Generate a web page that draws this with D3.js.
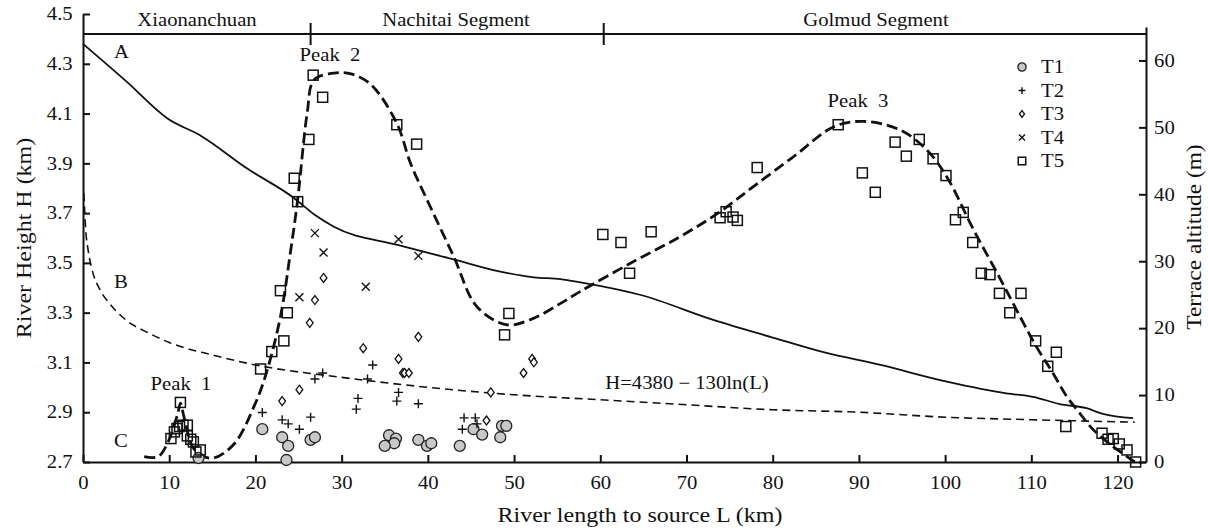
<!DOCTYPE html>
<html>
<head>
<meta charset="utf-8">
<script src="https://cdn.jsdelivr.net/npm/d3@7"></script>
<style>
  body { margin: 0; background: #fff; }
  text { font-family: "Liberation Serif", "Times New Roman", serif; fill: #111; }
  .axis path, .axis line { stroke: #111; stroke-width: 2; }
</style>
</head>
<body>
<div id="chart"></div>
<script>
// data
// river profile A (km, km a.s.l.)
var profileA = [[0, 4.38], [5, 4.23], [9.8, 4.08], [13.7, 4.01], [19, 3.88], [24.5, 3.76], [27, 3.69],
  [29.1, 3.645], [36.5, 3.572], [43.0, 3.514], [48.4, 3.465], [52.3, 3.442], [55.4, 3.435], [57.7, 3.422],
  [64.7, 3.371], [73.2, 3.27], [80, 3.20], [86, 3.14], [92.5, 3.09], [100.2, 3.023], [107.1, 2.976],
  [110.2, 2.962], [113.3, 2.933], [116.4, 2.916], [118.3, 2.893], [121.8, 2.876]];

// fitted curve B, H=4380-130ln(L) (km, km)
var curveB = [[0.1, 3.78], [0.3, 3.64], [0.6, 3.55], [1, 3.48], [2, 3.39], [3, 3.34], [5, 3.27],
  [7.5, 3.22], [10, 3.18], [15, 3.13], [20, 3.09], [30, 3.04], [40, 3.00], [50, 2.97], [60, 2.95],
  [70, 2.93], [80, 2.91], [90, 2.90], [100, 2.88], [110, 2.87], [122, 2.86]];

// envelope C of terrace altitude (km, m)
var envelopeC = [[7.1, 0.8], [8.7, 0.8], [9.8, 2.8], [11.0, 7.3], [11.3, 8.8], [11.7, 6.8], [12.7, 2.3],
  [13.7, 1.0], [15.2, 0.6], [17.6, 2.8], [19.9, 8.5], [21.2, 13], [22.9, 21.7], [24.1, 31.7], [24.9, 39.2],
  [26.0, 52.1], [26.8, 57.1], [29.1, 58.1], [31.1, 58.0], [33.4, 56.4], [36.4, 50.6], [38.0, 44.6],
  [39.9, 39.2], [43.0, 30.7], [45.7, 23.2], [49.2, 20.5], [52.3, 21.5], [55.4, 23.7], [57.7, 25.5],
  [63.5, 29.7], [69.3, 33.7], [73.9, 37.4], [77.8, 41.2], [82.4, 45.6], [87.1, 50.1], [90.5, 50.9],
  [94.8, 49.6], [97.9, 46.6], [100.2, 42.6], [103.3, 34.7], [106.3, 27.6], [108.7, 21.7], [110.6, 17.2],
  [112.5, 13.3], [114.1, 9.8], [115.6, 7.3], [117.2, 4.8], [119.5, 2.3], [122, 0]];

// terraces (km, m)
var t1 = [[13.4, 0.6], [20.8, 4.9], [23.1, 3.7], [23.8, 2.4], [23.6, 0.3], [26.4, 3.3], [26.9, 3.7],
  [35.5, 4.0], [36.3, 3.5], [36.1, 2.8], [35.0, 2.4], [38.9, 3.3], [39.9, 2.4], [40.4, 2.8], [43.7, 2.4],
  [45.3, 4.9], [46.3, 4.1], [48.4, 3.7], [48.6, 5.4], [49.1, 5.4]];
var t2 = [[20.8, 7.4], [23.1, 6.3], [23.8, 5.7], [25.1, 4.9], [26.4, 6.7], [26.9, 12.4], [27.8, 13.3],
  [31.7, 7.9], [31.9, 9.5], [33.0, 12.4], [33.6, 14.5], [36.4, 9.1], [36.6, 10.4], [38.9, 8.7],
  [44.0, 4.9], [44.2, 6.6], [45.5, 6.6], [45.7, 5.7]];
var t3 = [[23.1, 9.1], [25.1, 10.8], [26.3, 20.8], [26.9, 24.2], [27.9, 27.5], [32.5, 17.0], [36.6, 15.4],
  [37.1, 13.3], [37.3, 13.3], [37.8, 13.3], [38.9, 18.7], [46.8, 6.2], [47.3, 10.4], [51.1, 13.3],
  [52.1, 15.4], [52.3, 14.9]];
var t4 = [[26.9, 34.2], [27.9, 31.3], [25.1, 24.6], [32.8, 26.2], [36.6, 33.3], [38.9, 30.8]];
var t5 = [[10.2, 3.5], [10.6, 4.5], [10.9, 5.0], [11.2, 5.3], [11.6, 5.5], [11.3, 8.9], [12.1, 5.5],
  [12.1, 3.9], [12.5, 3.4], [12.8, 3.0], [13.1, 1.5], [13.6, 1.8],
  [20.6, 13.9], [21.9, 16.5], [23.3, 18.1], [23.7, 22.3], [22.9, 25.6], [24.9, 38.9], [24.5, 42.4],
  [26.2, 48.2], [26.7, 57.8], [27.8, 54.5], [36.4, 50.4], [38.7, 47.5], [49.4, 22.2], [48.9, 19.0],
  [60.3, 34.0], [62.4, 32.8], [63.4, 28.2], [65.9, 34.4], [73.9, 36.5], [74.6, 37.4], [75.4, 36.6],
  [75.9, 36.1], [78.2, 44.0], [87.6, 50.4], [90.4, 43.2], [91.9, 40.3], [94.2, 47.8], [97.0, 48.2],
  [95.5, 45.7], [98.6, 45.3], [100.1, 42.8], [102.1, 37.3], [101.2, 36.2], [103.2, 32.8], [104.2, 28.2],
  [105.2, 28.0], [106.3, 25.2], [108.8, 25.2], [107.5, 22.3], [110.5, 18.1], [112.9, 16.4], [111.9, 14.3],
  [114.0, 5.3], [118.2, 4.3], [118.9, 3.4], [119.5, 3.5], [120.2, 2.7], [121.1, 1.8], [122.1, 0]];

var xTicks = [0, 10, 20, 30, 40, 50, 60, 70, 80, 90, 100, 110, 120];
var hTicks = [2.7, 2.9, 3.1, 3.3, 3.5, 3.7, 3.9, 4.1, 4.3, 4.5];
var mTicks = [0, 10, 20, 30, 40, 50, 60];
var segments = ["Xiaonanchuan", "Nachitai Segment", "Golmud Segment"];
var segmentBounds = [0, 26.4, 60.4, 123.3];
var legendNames = ["T1", "T2", "T3", "T4", "T5"];

var svgWidth = 1208;
var svgHeight = 530;
var margin = { top: 14, right: 62, bottom: 68, left: 83 };
var width = svgWidth - margin.left - margin.right;
var height = svgHeight - margin.top - margin.bottom;

var svg = d3.select("#chart").append("svg")
  .attr("width", svgWidth)
  .attr("height", svgHeight);

var chartGroup = svg.append("g")
  .attr("transform", `translate(${margin.left}, ${margin.top})`);

var xScale = d3.scaleLinear().domain([0, 123.3]).range([0, width]);
var yH = d3.scaleLinear().domain([2.7, 4.5]).range([height, 0]);
var yM = d3.scaleLinear().domain([0, 65]).range([height, 13]);

// text is a bit wider than plain Times in the source
function label(g, x, y, txt, size, anchor, sx) {
  return g.append("text")
    .attr("transform", `translate(${x},${y}) scale(${sx || 1.15},1)`)
    .attr("text-anchor", anchor || "middle")
    .attr("font-size", size)
    .style("white-space", "pre")
    .text(txt);
}

// axes
var bottomAxis = d3.axisBottom(xScale).tickValues(xTicks).tickSize(-7).tickPadding(14).tickSizeOuter(0);
var leftAxis = d3.axisLeft(yH).tickValues(hTicks).tickFormat(d3.format(".1f")).tickSize(-7).tickPadding(9).tickSizeOuter(0);
var rightAxis = d3.axisRight(yM).tickValues(mTicks).tickSize(-7).tickPadding(8).tickSizeOuter(0);

var gx = chartGroup.append("g").attr("class", "axis")
  .attr("transform", `translate(0, ${height})`).call(bottomAxis);
var gl = chartGroup.append("g").attr("class", "axis").call(leftAxis);
var gr = chartGroup.append("g").attr("class", "axis")
  .attr("transform", `translate(${width}, 0)`).call(rightAxis);

[gx, gl, gr].forEach(function(g) {
  g.selectAll("text").attr("font-size", 18).attr("fill", "#111")
    .attr("font-family", "'Liberation Serif', serif")
    .attr("transform", "scale(1.15,1)");
});
gl.selectAll("text").attr("x", -9);
gr.selectAll("text").attr("x", 7);

// segment bar on top
var barY = 20;
chartGroup.append("line")
  .attr("x1", 0).attr("x2", width).attr("y1", barY).attr("y2", barY)
  .attr("stroke", "#111").attr("stroke-width", 2);
segmentBounds.slice(1, 3).forEach(function(b) {
  chartGroup.append("line")
    .attr("x1", xScale(b)).attr("x2", xScale(b))
    .attr("y1", barY - 11).attr("y2", barY + 11)
    .attr("stroke", "#111").attr("stroke-width", 2);
});
var segCenters = [114, 373, 793];
segments.forEach(function(s, i) {
  label(chartGroup, segCenters[i], 12, s, 18);
});

// lines
var lineH = d3.line().x(d => xScale(d[0])).y(d => yH(d[1])).curve(d3.curveMonotoneX);
var lineM = d3.line().x(d => xScale(d[0])).y(d => yM(d[1])).curve(d3.curveCatmullRom.alpha(0.5));

chartGroup.append("path").datum(profileA)
  .attr("d", lineH).attr("fill", "none").attr("stroke", "#111").attr("stroke-width", 1.8);

chartGroup.append("path").datum(curveB)
  .attr("d", lineH).attr("fill", "none").attr("stroke", "#111").attr("stroke-width", 1.6)
  .attr("stroke-dasharray", "8,5");

chartGroup.append("path").datum(envelopeC)
  .attr("d", lineM).attr("fill", "none").attr("stroke", "#111").attr("stroke-width", 2.8)
  .attr("stroke-dasharray", "11,5");

// terrace symbols
var shapes = {
  T1: function(g, s) { g.append("circle").attr("r", 5.5 * s).attr("fill", "#c8c8c8").attr("stroke", "#222").attr("stroke-width", 1.3); },
  T2: function(g, s) { g.append("path").attr("d", `M${-4.5 * s},0H${4.5 * s}M0,${-4.5 * s}V${4.5 * s}`).attr("stroke", "#111").attr("stroke-width", 1.4); },
  T3: function(g, s) { g.append("path").attr("d", `M0,${-4.5 * s}L${3.4 * s},0L0,${4.5 * s}L${-3.4 * s},0Z`).attr("fill", "#fff").attr("stroke", "#111").attr("stroke-width", 1.3); },
  T4: function(g, s) { g.append("path").attr("d", `M${-4 * s},${-4 * s}L${4 * s},${4 * s}M${-4 * s},${4 * s}L${4 * s},${-4 * s}`).attr("stroke", "#111").attr("stroke-width", 1.4); },
  T5: function(g, s) { g.append("rect").attr("x", -5 * s).attr("y", -5 * s).attr("width", 10 * s).attr("height", 10 * s).attr("fill", "none").attr("stroke", "#111").attr("stroke-width", 1.5); }
};
var series = [t1, t2, t3, t4, t5];
series.forEach(function(data, i) {
  chartGroup.selectAll(".pt" + i)
    .data(data)
    .enter()
    .append("g")
    .attr("class", "pt" + i)
    .attr("transform", d => `translate(${xScale(d[0])},${yM(d[1])})`)
    .each(function() { shapes[legendNames[i]](d3.select(this), 1); });
});

// legend
legendNames.forEach(function(n, i) {
  var gy = 53 + i * 23.5;
  var g = chartGroup.append("g").attr("transform", `translate(939, ${gy})`);
  shapes[n](g, 0.75);
  label(chartGroup, 958, gy + 6, n, 18, "start");
});

// annotations
label(chartGroup, 38.5, 44, "A", 18);
label(chartGroup, 38, 274, "B", 18);
label(chartGroup, 38, 433, "C", 18);
label(chartGroup, 98, 376, "Peak  1", 18);
label(chartGroup, 247, 47, "Peak  2", 18);
label(chartGroup, 775, 93, "Peak  3", 18);
label(chartGroup, 604, 375, "H=4380 \u2212 130ln(L)", 18);

// axis titles
label(svg, 640, 522, "River length to source L (km)", 20, "middle", 1.2);
svg.append("text")
  .attr("transform", "translate(31, 238) rotate(-90) scale(1.2,1)")
  .attr("text-anchor", "middle").attr("font-size", 20)
  .text("River Height H (km)");
svg.append("text")
  .attr("transform", "translate(1201, 237) rotate(-90) scale(1.17,1)")
  .attr("text-anchor", "middle").attr("font-size", 20)
  .text("Terrace altitude (m)");
</script>
</body>
</html>
